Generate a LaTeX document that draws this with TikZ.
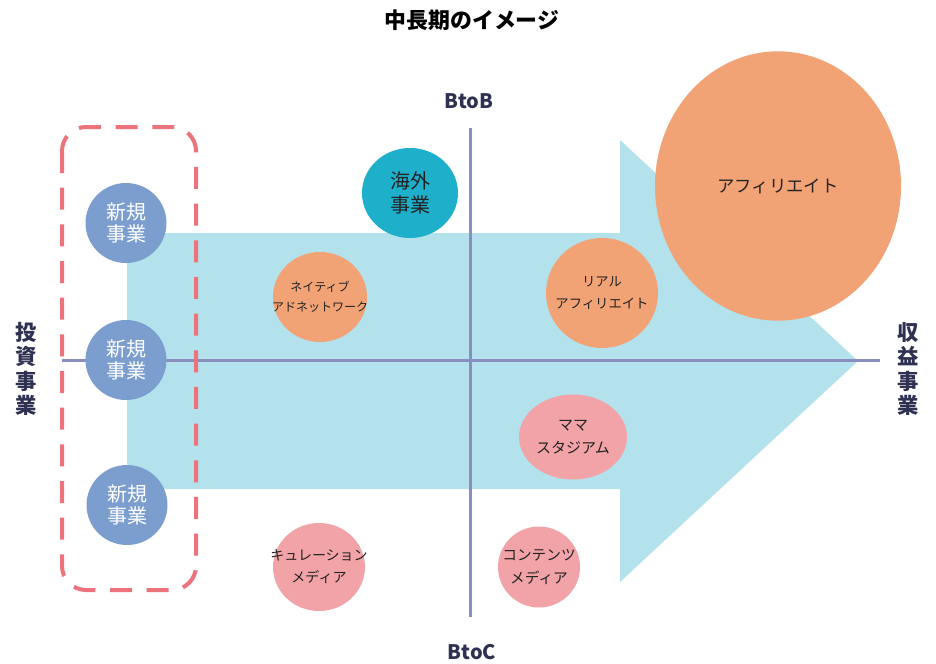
\documentclass[tikz,border=0pt]{standalone}
\usepackage{fontspec}
\setmainfont{Noto Sans CJK JP}
\usetikzlibrary{shapes.geometric}
\definecolor{arrowblue}{HTML}{B3E1EC}
\definecolor{axiscol}{HTML}{8A8DC0}
\definecolor{dashcol}{HTML}{EC727C}
\definecolor{newblue}{HTML}{7C9ECF}
\definecolor{teal}{HTML}{1EAFCB}
\definecolor{orangec}{HTML}{F2A376}
\definecolor{pinkc}{HTML}{F2A3A8}
\definecolor{labcol}{HTML}{2E3152}
\definecolor{txtcol}{HTML}{222222}
\tikzset{
  bubble/.style={ellipse, inner sep=0pt, outer sep=0pt},
  btext/.style={align=center, text=txtcol, inner sep=0pt},
  newbiz/.style={bubble, fill=newblue, minimum width=60.75pt, minimum height=60pt},
  newtext/.style={btext, text=white, font=\fontsize{15}{16.5}\selectfont},
  axisline/.style={draw=axiscol, line width=2.25pt},
  axislabel/.style={text=labcol, font=\bfseries\fontsize{15}{18}\selectfont},
  sidelabel/.style={text=labcol, align=center, font=\bfseries\fontsize{16}{18.4}\selectfont},
}
\begin{document}
\begin{tikzpicture}[x=0.75pt,y=-0.75pt]
\useasboundingbox (0,0) rectangle (936,664);
% title
\node[text=black, font=\bfseries\fontsize{16.4}{18}\selectfont] (title) at (472,20) {中長期のイメージ};
% arrow
\fill[arrowblue] (127,233) -- (620,233) -- (620,140) -- (858,361) -- (620,582) -- (620,489) -- (127,489) -- cycle;
% axes
\coordinate (hl) at (62,360);
\coordinate (hr) at (880,360);
\coordinate (vt) at (470,128);
\coordinate (vb) at (470,617);
\draw[axisline] (hl) -- (hr);
\draw[axisline] (vt) -- (vb);
% axis labels
\node[axislabel] (btob) at (469,101) {BtoB};
\node[axislabel] (btoc) at (472,652) {BtoC};
\node[sidelabel] (inv) at (26,369) {投\\資\\事\\業};
\node[sidelabel] (rev) at (908,369) {収\\益\\事\\業};
% dashed box
\draw[dashcol, line width=3pt, dash pattern=on 16.5pt off 11pt, rounded corners=18pt] (62,127) rectangle (196,590);
% new business
\node[newbiz] (n1) at (126,223) {};
\node[newtext] (n1t) at (n1) {新規\\事業};
\node[newbiz] (n2) at (126,360) {};
\node[newtext] (n2t) at (n2) {新規\\事業};
\node[newbiz] (n3) at (127,505) {};
\node[newtext] (n3t) at (n3) {新規\\事業};
% bubbles
\node[bubble, fill=teal, minimum width=72pt, minimum height=67.5pt] (kaigai) at (410,193) {};
\node[btext, font=\fontsize{15}{18}\selectfont] (kaigait) at (kaigai) {海外\\事業};
\node[bubble, fill=orangec, minimum width=70.5pt, minimum height=67.5pt] (native) at (320,297) {};
\node[btext, font=\fontsize{9}{15}\selectfont] (nativet) at (native) {ネイティブ\\アドネットワーク};
\node[bubble, fill=orangec, minimum width=84pt, minimum height=82.5pt] (real) at (602,293) {};
\node[btext, font=\fontsize{10}{16.5}\selectfont] (realt) at (real) {リアル\\アフィリエイト};
\node[bubble, fill=orangec, minimum width=184.5pt, minimum height=202pt] (aff) at (778,186) {};
\node[btext, font=\fontsize{13}{16}\selectfont] (afft) at (aff) {アフィリエイト};
\node[bubble, fill=pinkc, minimum width=81pt, minimum height=63.75pt] (mama) at (573,437) {};
\node[btext, font=\fontsize{11.25}{17}\selectfont] (mamat) at (mama) {ママ\\スタジアム};
\node[bubble, fill=pinkc, minimum width=69pt, minimum height=66pt] (cur) at (319,567) {};
\node[btext, font=\fontsize{10.5}{16.5}\selectfont] (curt) at (cur) {キュレーション\\メディア};
\node[bubble, fill=pinkc, minimum width=61.5pt, minimum height=60.75pt] (cont) at (539,567) {};
\node[btext, font=\fontsize{11}{17}\selectfont] (contt) at (cont) {コンテンツ\\メディア};
\end{tikzpicture}
\end{document}
